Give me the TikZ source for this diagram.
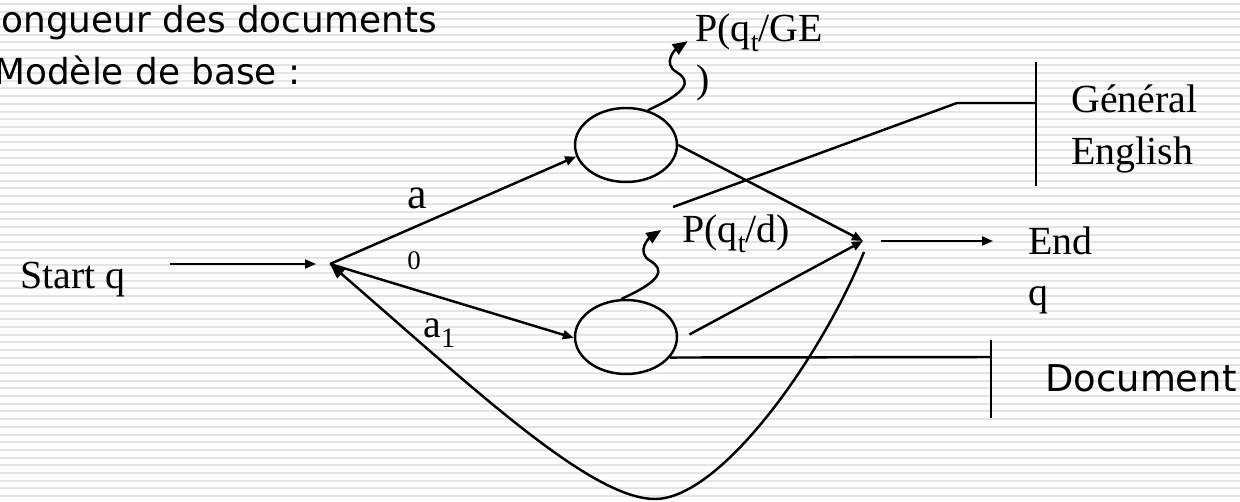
\documentclass[tikz,border=0pt]{standalone}
\usepackage{fontspec}
\setmainfont{Liberation Serif}
\newfontfamily\slidefont{DejaVu Sans}
\usetikzlibrary{arrows.meta, shapes.geometric}

\definecolor{stripegray}{RGB}{228,228,228}
\newcommand{\lsub}[1]{\raisebox{-5.5pt}{\fontsize{16pt}{16pt}\selectfont #1}}

\begin{document}
\begin{tikzpicture}[x=0.02cm, y=-0.02cm,
    lbl/.style={font=\fontsize{22.7pt}{26pt}\selectfont, inner sep=0pt, anchor=base west},
    titletext/.style={font=\slidefont\fontsize{20.4pt}{24pt}\selectfont, inner sep=0pt, anchor=base west},
    state/.style={draw, ellipse, line width=1.4pt, minimum width=2.04cm, minimum height=1.48cm, inner sep=0pt},
    wire/.style={line width=1.4pt},
    thinwire/.style={line width=1.1pt},
    smallhead/.style={-{Triangle[length=2.2mm,width=1.8mm]}},
    bighead/.style={-{Triangle[length=3mm,width=2.4mm]}},
    stripe/.style={stripegray, line width=0.4mm}]

    \useasboundingbox (0,0) rectangle (1240,502);
    \clip (0,0) rectangle (1240,502);

    % Striped slide background
    \foreach \i in {0,...,65}
        \draw[stripe] (0,{3.9+7.69*\i}) -- (1240,{3.9+7.69*\i});

    % Slide text
    \node[titletext] (title) at (1,33) {ongueur des documents};
    \node[titletext] (model) at (-6,85) {Modèle de base :};

    % States and junctions
    \node[state] (ge) at (626,145) {};
    \node[state] (doc) at (626,337) {};
    \coordinate (start) at (330,264);
    \coordinate (end) at (863,241);

    % Start q
    \node[lbl] (startq) at (20,289) {Start q};
    \draw[thinwire, smallhead, shorten <=8.8mm, shorten >=2.8mm] (startq.east |- start) -- (start);

    % End q
    \node[lbl] (endlbl) at (1028,255) {End};
    \node[lbl] (endq) at (1028,306) {q};
    \draw[thinwire, smallhead, shorten <=3.6mm, shorten >=7mm] (end) -- (end -| endlbl.west);

    % Transitions from start
    \draw[wire, smallhead] (start) -- (ge.193);
    \draw[wire, smallhead] (start) -- (doc.181);
    \node[lbl, font=\fontsize{25pt}{28pt}\selectfont] (alab) at (407,209) {a};
    \node[lbl, font=\fontsize{15.3pt}{18pt}\selectfont] (zerolab) at (407,270) {0};
    \node[lbl] (a1lab) at (423,338) {a\lsub{1}};

    % Transitions to end
    \draw[wire, smallhead] (ge.east) -- (end);
    \draw[wire, smallhead, shorten <=2.6mm] (doc.-4) -- (end);

    % Loop back to start
    \coordinate (loopstart) at (864,252);
    \draw[wire, bighead] (loopstart) .. controls (820,360) and (720,499) .. (655,499)
        .. controls (590,499) and (470,385) .. (start);

    % Emission of the General English state
    \draw[wire, bighead] (ge.58) .. controls +(40,-18) and +(15,9) .. ++(29,-38)
        .. controls +(-15,-9) and +(-12,8) .. ++(11,-31);
    \node[lbl] (pge) at (695,42) {P(q\lsub{t}/GE};
    \node[lbl] (pgeclose) at (696,93) {)};

    % Emission of the document state
    \draw[wire, bighead] (doc.97) .. controls +(40,-18) and +(15,9) .. ++(29,-38)
        .. controls +(-15,-9) and +(-12,8) .. ++(11,-31);
    \node[lbl] (pd) at (682,243) {P(q\lsub{t}/d)};

    % General English bracket
    \coordinate (gefree) at (673,207);
    \coordinate (gebend) at (957,103);
    \coordinate (gebar) at (1036,103);
    \draw[wire] (gefree) -- (gebend) -- (gebar);
    \draw[wire] (1036,62) -- (1036,186);
    \node[lbl] (gen) at (1071,113) {Général};
    \node[lbl] (eng) at (1071,165) {English};

    % Document bracket
    \coordinate (docbar) at (991,357);
    \draw[wire] (doc.-25) -- (docbar);
    \draw[wire] (991,340) -- (991,418);
    \node[titletext, font=\slidefont\fontsize{21pt}{24pt}\selectfont] (doclbl) at (1045,392) {Document};

\end{tikzpicture}
\end{document}
